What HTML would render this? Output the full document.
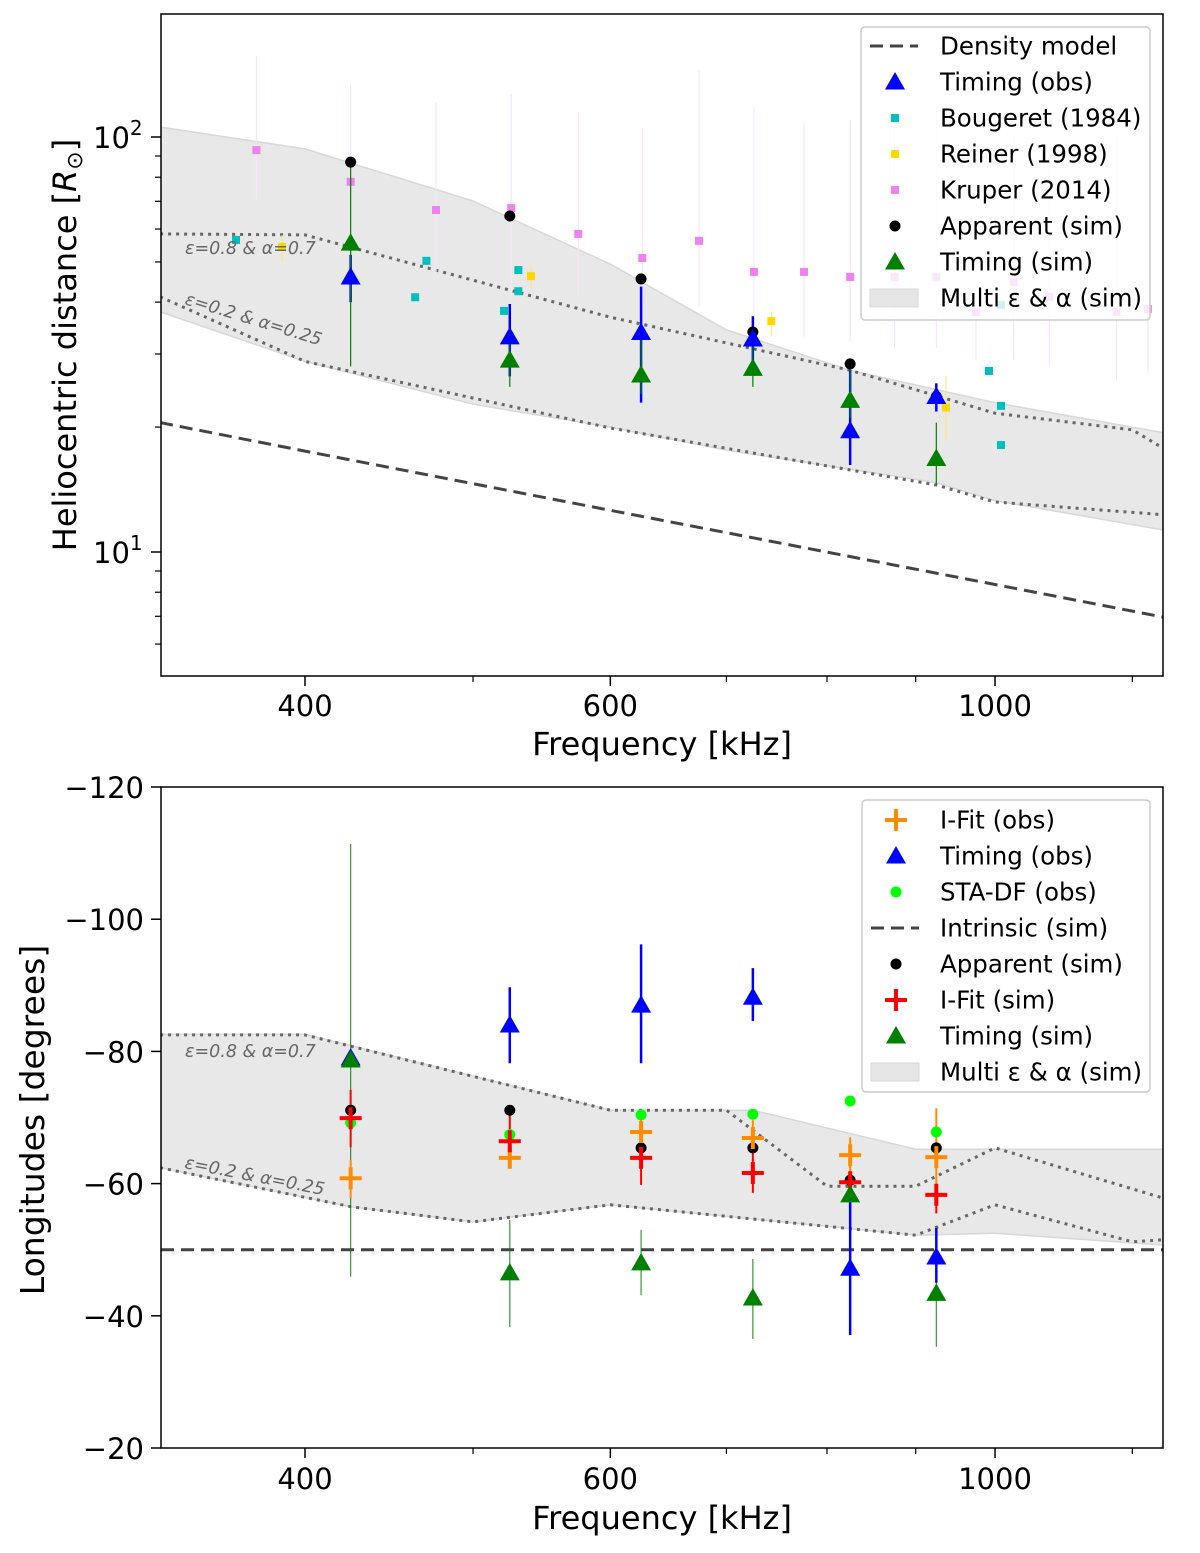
<!DOCTYPE html>
<html><head><meta charset="utf-8">
<style>
html,body{margin:0;padding:0;background:#fff;}
svg{display:block;font-family:"DejaVu Sans","Liberation Sans",sans-serif;}
</style></head>
<body>
<svg id="chart" width="1200" height="1553" viewBox="0 0 1200 1553" xmlns="http://www.w3.org/2000/svg"></svg>
<script>
// ---------- TOP PANEL DATA ----------
const freqs = [425, 525, 625, 725, 825, 925];
const appR = [87, 64.5, 45.5, 33.9, 28.4, 23.7];
const timObsR = [46, 33, 33.8, 32.6, 19.6, 23.7];
const timObsRLo = [40, 26.5, 22.9, 28.6, 16.2, 21.8];
const timObsRHi = [52, 39.6, 43.6, 37, 27.5, 25.5];
const timSimR = [55.5, 29, 26.7, 27.7, 23.2, 16.8];
const timSimRLo = [28, 25, 24, 25, 21, 14.5];
const timSimRHi = [87, 33.5, 33.5, 32, 28, 20.5];
const krF = [375,425,476,526,575,626,675,726,776,825,875,925,975,1025,1075,1175,1225];
const krR = [93,78,66.7,67.4,58.4,51.1,56.2,47.3,47.3,46,46,46,37.9,44.7,41.2,37.9,38.5];
const krHi = [157,134,121,127,115,105,145,118,108,110,112,116,100,100,95,102,100];
const krLo = [70,58,47,41,41,40,39,36,33,32,31,31,29,29,28,26,27];
const bgF = [365,463,470,521,531,531,992,1008,1008,1008];
const bgR = [56.5,41.1,50.3,38.1,47.8,42.5,27.3,39.4,22.5,18.1];
const reF = [388,540,743,937];
const reR = [54.3,46.2,36.0,22.3];
const reLo = [50,43,33,18.5];
const reHi = [58,49,38,26.5];
const densF = [330,400,600,1000,1250];
const densR = [20.5,17.5,12.6,8.35,6.97];
const bandUpF = [330,400,500,600,700,825,1000,1250];
const bandUpR = [105.7,93.6,70.1,49.4,34.3,27.4,22.9,19.4];
const bandLoF = [330,400,500,600,700,925,1000,1250];
const bandLoR = [37.9,28.8,22.7,20.0,17.6,14.7,13.3,11.3];
const e08F = [330,400,600,825,1000,1200,1250];
const e08R = [58.4,58.1,36.8,27.4,21.6,19.7,17.8];
const e02F = [330,400,600,925,1000,1250];
const e02R = [41.2,28.8,19.9,14.5,13.2,12.3];
// ---------- BOTTOM PANEL DATA ----------
const appL = [-71.1,-71.1,-65.4,-65.4,-60.5,-65.4];
const timObsL = [-79,-84.0,-87.0,-88.2,-47.2,-48.9];
const timObsLLo = [-80,-89.7,-96.2,-92.6,-59,-53.3];
const timObsLHi = [-78,-78.2,-78.2,-84.6,-37.1,-45];
const timSimL = [-78.7,-46.5,-48.0,-42.7,-58.3,-43.4];
const timSimLLo = [-111.4,-54.5,-53,-48.6,-66,-53];
const timSimLHi = [-45.9,-38.3,-43.1,-36.5,-52,-35.3];
const ifObsL = [-60.8,-63.9,-67.8,-66.9,-64.3,-64.0];
const ifObsLo = [-63.6,-67,-70,-69.6,-67,-71.4];
const ifObsHi = [-57.8,-62.4,-65.5,-65,-61,-60];
const ifSimL = [-69.9,-66.4,-63.9,-61.6,-60.2,-58.3];
const ifSimLo = [-74.2,-71,-65.4,-65,-61.5,-60];
const ifSimHi = [-65.5,-65,-59.8,-58.6,-59,-55.5];
const staL = [-69.2,-67.4,-70.4,-70.5,-72.5,-67.8];
const intrinsicL = -50;
const bUpF = [330,400,600,725,900,1250];
const bUpL = [-82.6,-82.6,-71.1,-71.1,-65.2,-65.2];
const bLoF = [330,425,500,600,900,1000,1250];
const bLoL = [-62.4,-56.5,-54.2,-56.8,-52.2,-52.5,-50.7];
const l08F = [330,400,600,700,800,900,1000,1250];
const l08L = [-82.5,-82.5,-71.1,-71.1,-59.6,-59.6,-65.4,-57.8];
const l02F = [330,425,500,600,900,1000,1200,1250];
const l02L = [-62.4,-56.5,-54.2,-56.8,-52.2,-56.8,-51.2,-51.5];
const xTicks = [400,600,1000];
const xMinor = [500,700,800,900,1200];
const yTicksB = [-120,-100,-80,-60,-40,-20];

const svgRoot = document.getElementById('chart');
const NS = 'http://www.w3.org/2000/svg';
const LX = 161, RX = 1163;
const X = f => 305 + 1734 * Math.log10(f / 400);
const YT = v => 137 - 415 * Math.log10(v / 100);
const YB = v => 787 + (v + 120) * 6.61;

function el(tag, attrs, parent) {
  const e = document.createElementNS(NS, tag);
  for (const k in attrs) e.setAttribute(k, attrs[k]);
  (parent || svgRoot).appendChild(e);
  return e;
}
function grp(name) {
  const g = el('g', {});
  
  
  return g;
}
function poly(fs, vs, Y) { return fs.map((f, i) => X(f).toFixed(1) + ',' + Y(vs[i]).toFixed(1)).join(' '); }
function tri(g, x, y, c, s) {
  s = s || 10;
  return el('polygon', {points: `${x},${y - s} ${x - s},${y + s * 0.75} ${x + s},${y + s * 0.75}`, fill: c}, g);
}
function plus(g, x, y, c) {
  el('line', {x1: x - 11, y1: y, x2: x + 11, y2: y, stroke: c, 'stroke-width': 4}, g);
  el('line', {x1: x, y1: y - 11, x2: x, y2: y + 11, stroke: c, 'stroke-width': 4}, g);
}
function octo(g, x, y, c) {
  el('circle', {cx: x, cy: y, r: 5.5, fill: c}, g);
}

const defs = el('defs', {});
const cp1 = el('clipPath', {id: 'c1'}, defs); el('rect', {x: LX, y: 14, width: RX - LX, height: 662}, cp1);
const cp2 = el('clipPath', {id: 'c2'}, defs); el('rect', {x: LX, y: 787, width: RX - LX, height: 661}, cp2);

// ================= TOP PANEL =================
const topArea = grp('top-plot-area');
topArea.setAttribute('clip-path', 'url(#c1)');
const band = el('polygon', {points: poly(bandUpF, bandUpR, YT) + ' ' + poly(bandLoF.slice().reverse(), bandLoR.slice().reverse(), YT), fill: '#e8e8e8', stroke: '#d8d8d8', 'stroke-width': 1.5}, topArea);


const d08 = el('polyline', {points: poly(e08F, e08R, YT), fill: 'none', stroke: '#666', 'stroke-width': 3, 'stroke-dasharray': '3,5'}, topArea);


const d02 = el('polyline', {points: poly(e02F, e02R, YT), fill: 'none', stroke: '#666', 'stroke-width': 3, 'stroke-dasharray': '3,5'}, topArea);


const dens = el('polyline', {points: poly(densF, densR, YT), fill: 'none', stroke: '#444', 'stroke-width': 3, 'stroke-dasharray': '13,7'}, topArea);


krF.forEach((f, i) => {
  const x = X(f);
  el('line', {x1: x, y1: YT(krHi[i]), x2: x, y2: YT(krLo[i]), stroke: '#f8e4f8', 'stroke-width': 1.2}, topArea);
  const m = el('rect', {x: x - 4, y: YT(krR[i]) - 4, width: 8, height: 8, fill: '#ee82ee'}, topArea);
  
  
});
bgF.forEach((f, i) => {
  const m = el('rect', {x: X(f) - 4, y: YT(bgR[i]) - 4, width: 8, height: 8, fill: '#00bfbf'}, topArea);
  
  
});
reF.forEach((f, i) => {
  const x = X(f);
  el('line', {x1: x, y1: YT(reHi[i]), x2: x, y2: YT(reLo[i]), stroke: '#ffe680', 'stroke-width': 1.2}, topArea);
  const m = el('rect', {x: x - 4, y: YT(reR[i]) - 4, width: 8, height: 8, fill: '#ffd700'}, topArea);
  
  
});
freqs.forEach((f, i) => {
  const x = X(f);
  el('line', {x1: x, y1: YT(timObsRHi[i]), x2: x, y2: YT(timObsRLo[i]), stroke: '#0000ff', 'stroke-width': 2.5}, topArea);
  el('line', {x1: x, y1: YT(timSimRHi[i]), x2: x, y2: YT(timSimRLo[i]), stroke: '#008000', 'stroke-width': 1.2}, topArea);
  const a = el('circle', {cx: x, cy: YT(appR[i]), r: 5.5, fill: '#000'}, topArea);
  
  
  const b = tri(topArea, x, YT(timObsR[i]), '#0000ff');
  
  
  const g = tri(topArea, x, YT(timSimR[i]), '#008000');
  
  
});
const a1 = el('text', {x: 185, y: 254, 'font-size': 17.5, fill: '#666', 'font-style': 'italic'}, topArea);
a1.textContent = 'ε=0.8 & α=0.7';


const a2 = el('text', {x: 0, y: 0, 'font-size': 17.5, fill: '#666', 'font-style': 'italic', transform: 'translate(184,304) rotate(17)'}, topArea);
a2.textContent = 'ε=0.2 & α=0.25';



const axT = grp('top-axes');
el('rect', {x: LX, y: 14, width: RX - LX, height: 662, fill: 'none', stroke: '#000', 'stroke-width': 1.5}, axT);
xTicks.forEach(t => {
  el('line', {x1: X(t), y1: 676, x2: X(t), y2: 686, stroke: '#000', 'stroke-width': 1.5}, axT);
  const tx = el('text', {x: X(t), y: 716, 'font-size': 29, 'text-anchor': 'middle'}, axT);
  tx.textContent = t;
  
  
});
xMinor.forEach(t => el('line', {x1: X(t), y1: 676, x2: X(t), y2: 682, stroke: '#000', 'stroke-width': 1.2}, axT));
[6,7,8,9,20,30,40,50,60,70,80,90].forEach(v => el('line', {x1: LX - 6, y1: YT(v), x2: LX, y2: YT(v), stroke: '#000', 'stroke-width': 1.2}, axT));
[10,100].forEach(v => {
  el('line', {x1: LX - 10, y1: YT(v), x2: LX, y2: YT(v), stroke: '#000', 'stroke-width': 1.5}, axT);
  const tx = el('text', {x: 93, y: YT(v) + 11, 'font-size': 29}, axT);
  tx.textContent = '10';
  const s = el('tspan', {'font-size': 20, dy: -13}, tx);
  s.textContent = v === 10 ? '1' : '2';
  
  
});
const xl1 = el('text', {x: 662, y: 755, 'font-size': 32, 'text-anchor': 'middle'}, axT);
xl1.textContent = 'Frequency [kHz]';


const yl1 = el('text', {x: 0, y: 0, 'font-size': 32, 'text-anchor': 'middle', transform: 'translate(76,345) rotate(-90)'}, axT);
yl1.textContent = 'Heliocentric distance [';
const rr = el('tspan', {'font-style': 'italic'}, yl1); rr.textContent = 'R';
const sub = el('tspan', {'font-size': 22, dy: 6}, yl1); sub.textContent = '⊙';
const cl = el('tspan', {dy: -6}, yl1); cl.textContent = ']';



const lgT = grp('legend-top');
el('rect', {x: 861, y: 27, width: 289, height: 293, rx: 4, fill: 'rgba(255,255,255,0.8)', stroke: '#ccc', 'stroke-width': 1.5}, lgT);
const topLeg = ['Density model','Timing (obs)','Bougeret (1984)','Reiner (1998)','Kruper (2014)','Apparent (sim)','Timing (sim)','Multi ε & α (sim)'];
topLeg.forEach((t, i) => {
  const y = 46 + i * 36;
  const mx = 895;
  if (i === 0) el('line', {x1: 870, y1: y, x2: 918, y2: y, stroke: '#444', 'stroke-width': 3, 'stroke-dasharray': '13,7'}, lgT);
  if (i === 1) tri(lgT, mx, y, '#0000ff');
  if (i === 2) el('rect', {x: mx - 4, y: y - 4, width: 8, height: 8, fill: '#00bfbf'}, lgT);
  if (i === 3) el('rect', {x: mx - 4, y: y - 4, width: 8, height: 8, fill: '#ffd700'}, lgT);
  if (i === 4) el('rect', {x: mx - 4, y: y - 4, width: 8, height: 8, fill: '#ee82ee'}, lgT);
  if (i === 5) el('circle', {cx: mx, cy: y, r: 5.5, fill: '#000'}, lgT);
  if (i === 6) tri(lgT, mx, y, '#008000');
  if (i === 7) el('rect', {x: 870, y: y - 9, width: 48, height: 18, fill: '#e6e6e6', stroke: '#d8d8d8'}, lgT);
  const tx = el('text', {x: 940, y: y + 8.5, 'font-size': 24.5}, lgT);
  tx.textContent = t;
  
  
});

// ================= BOTTOM PANEL =================
const botArea = grp('bottom-plot-area');
botArea.setAttribute('clip-path', 'url(#c2)');
const band2 = el('polygon', {points: poly(bUpF, bUpL, YB) + ' ' + poly(bLoF.slice().reverse(), bLoL.slice().reverse(), YB), fill: '#e8e8e8', stroke: '#d8d8d8', 'stroke-width': 1.5}, botArea);


const b08 = el('polyline', {points: poly(l08F, l08L, YB), fill: 'none', stroke: '#666', 'stroke-width': 3, 'stroke-dasharray': '3,5'}, botArea);


const b02 = el('polyline', {points: poly(l02F, l02L, YB), fill: 'none', stroke: '#666', 'stroke-width': 3, 'stroke-dasharray': '3,5'}, botArea);


const intr = el('line', {x1: LX, y1: YB(intrinsicL), x2: RX, y2: YB(intrinsicL), stroke: '#444', 'stroke-width': 3, 'stroke-dasharray': '13,7'}, botArea);


freqs.forEach((f, i) => {
  const x = X(f);
  el('line', {x1: x, y1: YB(timSimLHi[i]), x2: x, y2: YB(timSimLLo[i]), stroke: '#008000', 'stroke-width': 1.2, opacity: 0.8}, botArea);
  el('line', {x1: x, y1: YB(timObsLHi[i]), x2: x, y2: YB(timObsLLo[i]), stroke: '#0000ff', 'stroke-width': 2.5}, botArea);
  el('line', {x1: x, y1: YB(ifObsHi[i]), x2: x, y2: YB(ifObsLo[i]), stroke: '#ff8c00', 'stroke-width': 2}, botArea);
  el('line', {x1: x, y1: YB(ifSimHi[i]), x2: x, y2: YB(ifSimLo[i]), stroke: '#ff0000', 'stroke-width': 2}, botArea);
  const s = el('circle', {cx: x, cy: YB(staL[i]), r: 5.5, fill: '#00ff00'}, botArea);
  
  
  const a = el('circle', {cx: x, cy: YB(appL[i]), r: 5.5, fill: '#000'}, botArea);
  
  
  const og = el('g', {}, botArea); plus(og, x, YB(ifObsL[i]), '#ff8c00');
  
  
  const rg = el('g', {}, botArea); plus(rg, x, YB(ifSimL[i]), '#ff0000');
  
  
  const b = tri(botArea, x, YB(timObsL[i]), '#0000ff');
  
  
  const g = tri(botArea, x, YB(timSimL[i]), '#008000');
  
  
});
const a3 = el('text', {x: 185, y: 1057, 'font-size': 17.5, fill: '#666', 'font-style': 'italic'}, botArea);
a3.textContent = 'ε=0.8 & α=0.7';


const a4 = el('text', {x: 0, y: 0, 'font-size': 17.5, fill: '#666', 'font-style': 'italic', transform: 'translate(184,1168) rotate(11)'}, botArea);
a4.textContent = 'ε=0.2 & α=0.25';



const axB = grp('bottom-axes');
el('rect', {x: LX, y: 787, width: RX - LX, height: 661, fill: 'none', stroke: '#000', 'stroke-width': 1.5}, axB);
xTicks.forEach(t => {
  el('line', {x1: X(t), y1: 1448, x2: X(t), y2: 1458, stroke: '#000', 'stroke-width': 1.5}, axB);
  const tx = el('text', {x: X(t), y: 1489, 'font-size': 29, 'text-anchor': 'middle'}, axB);
  tx.textContent = t;
  
  
});
xMinor.forEach(t => el('line', {x1: X(t), y1: 1448, x2: X(t), y2: 1454, stroke: '#000', 'stroke-width': 1.2}, axB));
yTicksB.forEach(v => {
  el('line', {x1: LX - 10, y1: YB(v), x2: LX, y2: YB(v), stroke: '#000', 'stroke-width': 1.5}, axB);
  const tx = el('text', {x: 144, y: YB(v) + 11, 'font-size': 29, 'text-anchor': 'end'}, axB);
  tx.textContent = '−' + Math.abs(v);
  
  
});
const xl2 = el('text', {x: 662, y: 1529, 'font-size': 32, 'text-anchor': 'middle'}, axB);
xl2.textContent = 'Frequency [kHz]';


const yl2 = el('text', {x: 0, y: 0, 'font-size': 33, 'text-anchor': 'middle', transform: 'translate(44,1120) rotate(-90)'}, axB);
yl2.textContent = 'Longitudes [degrees]';



const lgB = grp('legend-bottom');
el('rect', {x: 862, y: 800, width: 288, height: 292, rx: 4, fill: 'rgba(255,255,255,0.8)', stroke: '#ccc', 'stroke-width': 1.5}, lgB);
const botLeg = ['I-Fit (obs)','Timing (obs)','STA-DF (obs)','Intrinsic (sim)','Apparent (sim)','I-Fit (sim)','Timing (sim)','Multi ε & α (sim)'];
botLeg.forEach((t, i) => {
  const y = 820 + i * 36;
  const mx = 896;
  if (i === 0) plus(lgB, mx, y, '#ff8c00');
  if (i === 1) tri(lgB, mx, y, '#0000ff');
  if (i === 2) octo(lgB, mx, y, '#00ff00');
  if (i === 3) el('line', {x1: 871, y1: y, x2: 919, y2: y, stroke: '#444', 'stroke-width': 3, 'stroke-dasharray': '13,7'}, lgB);
  if (i === 4) el('circle', {cx: mx, cy: y, r: 5.5, fill: '#000'}, lgB);
  if (i === 5) plus(lgB, mx, y, '#ff0000');
  if (i === 6) tri(lgB, mx, y, '#008000');
  if (i === 7) el('rect', {x: 871, y: y - 9, width: 48, height: 18, fill: '#e6e6e6', stroke: '#d8d8d8'}, lgB);
  const tx = el('text', {x: 940, y: y + 8.5, 'font-size': 24.5}, lgB);
  tx.textContent = t;
  
  
});
</script>
</body></html>
